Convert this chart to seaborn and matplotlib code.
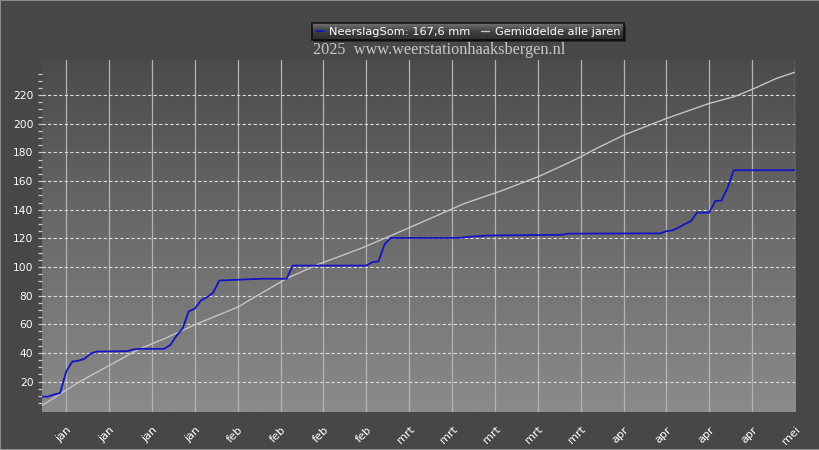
import numpy as np
import pandas as pd
import matplotlib
matplotlib.use("Agg")
import matplotlib.pyplot as plt
from matplotlib.lines import Line2D
from matplotlib.patches import Rectangle
from matplotlib.colors import LinearSegmentedColormap
from matplotlib.ticker import FixedLocator
import seaborn as sns

# ---------------- data ----------------
start_date = "2025-01-01"

rain_days = [0, 1, 2, 3, 4, 5, 6, 7, 8, 9, 14, 15, 16, 20, 21, 22, 23, 24, 25, 26,
             27, 28, 29, 32, 36, 40, 41, 53, 54, 55, 56, 57, 68, 70, 73, 85, 86,
             101, 102, 103, 104, 105, 106, 107, 109, 110, 111, 112, 113, 123]
rain_sum = [9.5, 9.5, 11, 12, 27, 34, 34.6, 36, 39.5, 41, 41.3, 42.5, 42.9, 42.9,
            45.5, 52, 57, 69, 71, 76.6, 79, 82, 90.6, 91.1, 91.8, 91.8, 101, 101,
            103.4, 104, 116, 120.3, 120.3, 121.2, 122, 122.5, 123.3,
            123.5, 125, 125.6, 127.5, 130, 132, 138, 138, 146.1, 146.4, 155.4,
            167.6, 167.6]

avg_days = [0, 6, 16, 20, 25, 32, 40, 45, 52, 58, 64, 69, 75, 81, 86, 88, 90, 95,
            102, 109, 113, 116, 120, 123]
avg_sum = [3.2, 19.5, 42.9, 49.9, 59.7, 72, 92, 101.6, 112.8, 123.7, 134.9, 144.3,
           153.1, 162.9, 172.7, 176.9, 181.5, 192, 203.7, 214.2, 218.8, 224, 231.7,
           236]

tick_dates = ["2025-01-05", "2025-01-12", "2025-01-19", "2025-01-26",
              "2025-02-02", "2025-02-09", "2025-02-16", "2025-02-23",
              "2025-03-02", "2025-03-09", "2025-03-16", "2025-03-23", "2025-03-30",
              "2025-04-06", "2025-04-13", "2025-04-20", "2025-04-27", "2025-05-04"]
tick_labels = ["jan", "jan", "jan", "jan", "feb", "feb", "feb", "feb",
               "mrt", "mrt", "mrt", "mrt", "mrt", "apr", "apr", "apr", "apr", "mei"]
y_major = [20, 40, 60, 80, 100, 120, 140, 160, 180, 200, 220]
y_minor = list(range(5, 240, 5))
x_range = ["2025-01-01", "2025-05-04"]
y_range = [-1.2, 244.5]

legend_labels = ["NeerslagSom: 167,6 mm", "Gemiddelde alle jaren"]
title_text = "2025  www.weerstationhaaksbergen.nl"

# ---------------- frames ----------------
t0 = pd.Timestamp(start_date)
rain_df = pd.DataFrame({"datum": t0 + pd.to_timedelta(rain_days, unit="D"),
                        "mm": rain_sum})
avg_df = pd.DataFrame({"datum": t0 + pd.to_timedelta(avg_days, unit="D"),
                       "mm": avg_sum})

# ---------------- style ----------------
sns.set_style("dark")
plt.rcParams["font.family"] = ["DejaVu Sans"]

BLUE = "#1414c4"
GRAY = "#c4c4c4"
FIG_BG = "#474747"

fig = plt.figure(figsize=(8.2, 4.5), dpi=100, facecolor=FIG_BG)
pos = [41.7 / 820, 1 - 412 / 450, (795 - 41.7) / 820, (412 - 60) / 450]

# gradient plot background
bg_ax = fig.add_axes(pos, zorder=0)
grad = np.linspace(0, 1, 256).reshape(-1, 1)
cmap = LinearSegmentedColormap.from_list("bg", ["#4b4b4b", "#8b8b8b"])
bg_ax.imshow(grad, cmap=cmap, aspect="auto", extent=[0, 1, 0, 1], origin="upper")
bg_ax.set_axis_off()

ax = fig.add_axes(pos, zorder=1)
ax.set_facecolor("none")

sns.lineplot(data=avg_df, x="datum", y="mm", ax=ax, color=GRAY, linewidth=1.0)
sns.lineplot(data=rain_df, x="datum", y="mm", ax=ax, color=BLUE, linewidth=1.3)

ax.set_xlim(pd.Timestamp(x_range[0]), pd.Timestamp(x_range[1]))
ax.set_ylim(*y_range)
ax.set_xlabel("")
ax.set_ylabel("")

ax.set_xticks(pd.to_datetime(tick_dates))
ax.set_xticklabels(tick_labels, rotation=45, ha="right", rotation_mode="anchor")
ax.set_yticks(y_major)
ax.yaxis.set_minor_locator(FixedLocator(y_minor))

ax.tick_params(axis="x", which="major", length=6, width=0.9, color="#b4b4b4",
               labelcolor="white", labelsize=8, pad=3, direction="out")
ax.tick_params(axis="y", which="both", length=3, width=0.9, color="#c8c8c8",
               labelcolor="white", labelsize=7.7, pad=3, direction="out", left=True)

ax.grid(False)
ax.grid(axis="y", which="major", color="#dcdcdc", linestyle=(0, (3, 2)), linewidth=0.8)
ax.grid(axis="x", which="major", color="#b4b4b4", linestyle="-", linewidth=0.9)
ax.set_axisbelow(True)
for s in ax.spines.values():
    s.set_visible(False)

# legend
handles = [Line2D([], [], color=BLUE, lw=1.3), Line2D([], [], color=GRAY, lw=1.0)]
leg = fig.legend(handles=handles, labels=legend_labels, ncol=2, loc="center",
                 bbox_to_anchor=(468 / 820, 1 - 31.7 / 450), frameon=True,
                 facecolor="none", edgecolor="black", fancybox=False,
                 framealpha=None, fontsize=8.2, labelcolor="white",
                 handlelength=0.7, handletextpad=0.5, columnspacing=0.9,
                 borderpad=0.3, borderaxespad=0)
leg.get_frame().set_linewidth(1.2)
leg.get_frame().set_facecolor("none")

# gradient behind the legend box
fig.canvas.draw()
bb = leg.get_window_extent().transformed(fig.transFigure.inverted())
lg_ax = fig.add_axes([bb.x0, bb.y0, bb.width, bb.height], zorder=2)
lg_cmap = LinearSegmentedColormap.from_list("lg", ["#747474", "#404040", "#2e2e2e"])
lg_ax.imshow(grad, cmap=lg_cmap, aspect="auto", extent=[0, 1, 0, 1], origin="upper")
lg_ax.set_axis_off()
# soft shadow on the right/bottom
fig.patches.append(Rectangle((bb.x0 + 2 / 820, bb.y0 - 2 / 450), bb.width, bb.height,
                             transform=fig.transFigure, facecolor="#2a2a2a",
                             edgecolor="none", zorder=1.5))

fig.text(313 / 820, 1 - 54.3 / 450, title_text, family="Liberation Serif",
         fontsize=11.7, color="#c8c8c8", ha="left", va="baseline")

fig.patches.append(Rectangle((0, 0), 1, 1, transform=fig.transFigure, fill=False,
                             edgecolor="#8a8a8a", linewidth=1.5))

fig.savefig("out.png", dpi=100, facecolor=FIG_BG)
